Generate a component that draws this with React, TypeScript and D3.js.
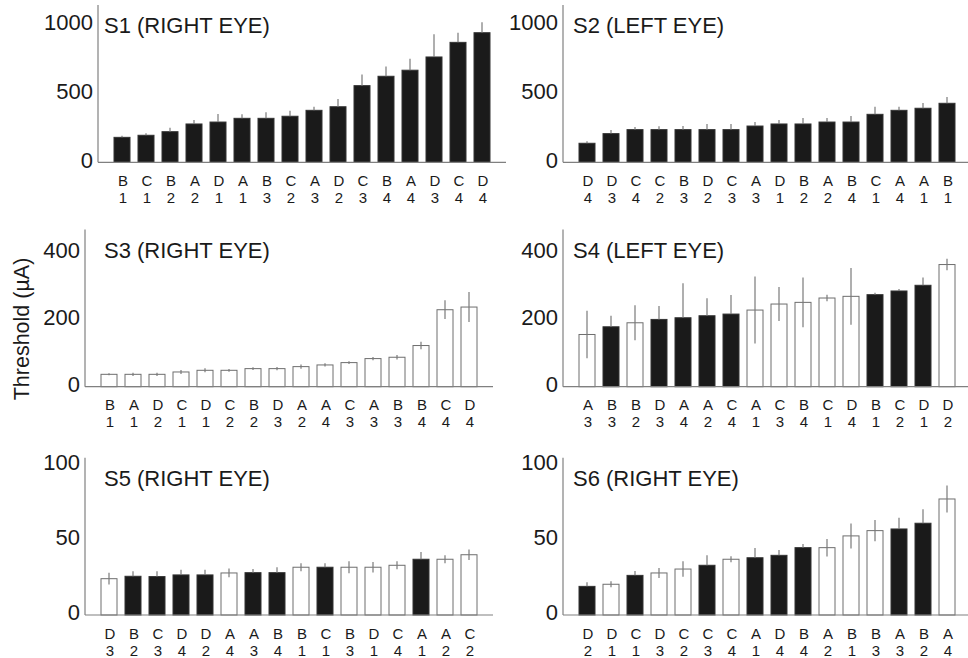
import React from "react";
import * as d3 from "d3";

// ---------- data ----------
const S1_CATS = ["B1","C1","B2","A2","D1","A1","B3","C2","A3","D2","C3","B4","A4","D3","C4","D4"];
const S1_VALUES = [181,196,222,278,292,319,319,334,377,403,556,624,668,764,870,940];
const S1_ERRORS = [12,14,29,29,58,29,44,40,26,56,80,70,84,165,70,75];
const S1_FILLED = [1,1,1,1,1,1,1,1,1,1,1,1,1,1,1,1];

const S2_CATS = ["D4","D3","C4","C2","B3","D2","C3","A3","D1","B2","A2","B4","C1","A4","A1","B1"];
const S2_VALUES = [138,208,237,237,237,237,237,263,278,278,292,292,348,377,392,428];
const S2_ERRORS = [14,26,19,24,26,41,41,29,29,43,29,44,55,26,38,45];
const S2_FILLED = [1,1,1,1,1,1,1,1,1,1,1,1,1,1,1,1];

const S3_CATS = ["B1","A1","D2","C1","D1","C2","B2","D3","A2","A4","C3","A3","B3","B4","C4","D4"];
const S3_VALUES = [37,37,37,44,49,49,54,54,60,65,72,84,88,123,230,238];
const S3_ERRORS = [3,5,5,6,6,4,4,5,6,5,4,5,7,11,28,45];
const S3_FILLED = [0,0,0,0,0,0,0,0,0,0,0,0,0,0,0,0];

const S4_CATS = ["A3","B3","B2","D3","A4","A2","C4","A1","C3","B4","C1","D4","B1","C2","D1","D2"];
const S4_VALUES = [156,179,191,201,206,212,217,229,247,252,265,270,275,286,303,365];
const S4_ERRORS = [71,33,52,40,103,52,57,100,51,74,10,85,6,6,23,17];
const S4_FILLED = [0,1,0,1,1,1,1,0,0,0,0,0,1,1,1,0];

const S5_CATS = ["D3","B2","C3","D4","D2","A4","A3","B4","B1","C1","B3","D1","C4","A1","A2","C2"];
const S5_VALUES = [24.1,25.7,25.5,26.6,26.6,27.9,28.1,28.1,31.7,31.7,31.7,31.7,33,37,37,40];
const S5_ERRORS = [3.9,3.3,3.5,3.5,3.5,2.9,2.4,3.6,2.7,2.6,4,3.5,2.7,4.8,2.7,3.5];
const S5_FILLED = [0,1,1,1,1,0,1,1,0,1,0,0,0,1,0,0];

const S6_CATS = ["D2","D1","C1","D3","C2","C3","C4","A1","D4","B4","A2","B1","B3","A3","B2","A4"];
const S6_VALUES = [19,20.4,26.3,27.9,30.5,33,37,38,39.6,44.7,44.7,52.5,56,57.1,60.9,77];
const S6_ERRORS = [2.7,2,2.9,3.3,5.1,6.6,2,6.5,3.6,2.4,5.8,8.3,7,7.5,9.3,9];
const S6_FILLED = [1,0,1,0,0,1,0,1,1,1,0,0,0,1,1,0];

const TITLES = ["S1 (RIGHT EYE)","S2 (LEFT EYE)","S3 (RIGHT EYE)","S4 (LEFT EYE)","S5 (RIGHT EYE)","S6 (RIGHT EYE)"];
const Y_MAX = [1141, 1141, 470, 470, 104.4, 104.4];
const Y_TICKS = [[0,500,1000],[0,500,1000],[0,200,400],[0,200,400],[0,50,100],[0,50,100]];
const Y_LABEL = "Threshold (\u00B5A)";

// ---------- layout ----------
const W = 968, H = 658;
const FONT = "'Liberation Sans', Arial, Helvetica, sans-serif";
const AXIS_X = [98, 563, 85, 563, 85, 563];
const BASE_Y = [162.3, 162.3, 386.7, 386.7, 615, 615];
const AXIS_H = 157.3;
const STEP = 24;
const BAR_W = 16;
const TITLE_X = [104, 573, 104, 573, 104, 573];
const AXIS_COLOR = "#808080";
const BAR_BLACK = "#1a1a1a";
const ERR_COLOR = "#7a7a7a";

type Panel = { cats: string[]; values: number[]; errors: number[]; filled: number[] };
const PANELS: Panel[] = [
  { cats: S1_CATS, values: S1_VALUES, errors: S1_ERRORS, filled: S1_FILLED },
  { cats: S2_CATS, values: S2_VALUES, errors: S2_ERRORS, filled: S2_FILLED },
  { cats: S3_CATS, values: S3_VALUES, errors: S3_ERRORS, filled: S3_FILLED },
  { cats: S4_CATS, values: S4_VALUES, errors: S4_ERRORS, filled: S4_FILLED },
  { cats: S5_CATS, values: S5_VALUES, errors: S5_ERRORS, filled: S5_FILLED },
  { cats: S6_CATS, values: S6_VALUES, errors: S6_ERRORS, filled: S6_FILLED },
];

function BarPanel({ idx }: { idx: number }) {
  const p = PANELS[idx];
  const x0 = AXIS_X[idx];
  const base = BASE_Y[idx];
  const n = p.cats.length;
  const x = d3.scaleLinear().domain([0, n + 1]).range([x0, x0 + (n + 1) * STEP]);
  const y = d3.scaleLinear().domain([0, Y_MAX[idx]]).range([base, base - AXIS_H]);
  return (
    <g>
      {p.values.map((v, i) => {
        const cx = x(i + 1);
        const f = p.filled[i] === 1;
        return (
          <rect key={"b" + i} x={cx - BAR_W / 2} y={y(v)} width={BAR_W} height={y(0) - y(v)}
            fill={f ? BAR_BLACK : "#ffffff"} stroke={f ? "#333" : "#6e6e6e"} strokeWidth={1} />
        );
      })}
      {p.values.map((v, i) => {
        const cx = x(i + 1);
        const f = p.filled[i] === 1;
        const e = p.errors[i];
        return (
          <line key={"e" + i} x1={cx} x2={cx} y1={f ? y(v) : y(v - e)} y2={y(v + e)}
            stroke={ERR_COLOR} strokeWidth={1.2} />
        );
      })}
      <line x1={x0} x2={x0} y1={base} y2={base - AXIS_H} stroke={AXIS_COLOR} strokeWidth={1.2} />
      <line x1={x0} x2={x(n + 1)} y1={base} y2={base} stroke={AXIS_COLOR} strokeWidth={1.2} />
      {Y_TICKS[idx].map((t) => (
        <text key={"t" + t} x={x0 - 5} y={y(t) - 2.5} dy="0.36em" textAnchor="end"
          fontSize={22} fill="#1a1a1a" fontFamily={FONT}>{t}</text>
      ))}
      {p.cats.map((c, i) => (
        <g key={"c" + i}>
          <text x={x(i + 1) + 1} y={base + 18.2} dy="0.36em" textAnchor="middle" fontSize={15}
            fill="#1a1a1a" fontFamily={FONT}>{c[0]}</text>
          <text x={x(i + 1) + 1} y={base + 35.2} dy="0.36em" textAnchor="middle" fontSize={15}
            fill="#1a1a1a" fontFamily={FONT}>{c.slice(1)}</text>
        </g>
      ))}
      <text x={TITLE_X[idx]} y={base - 137} dy="0.36em" fontSize={22} fill="#1a1a1a"
        fontFamily={FONT}>{TITLES[idx]}</text>
    </g>
  );
}

export default function App() {
  return (
    <svg width={W} height={H} style={{ position: "absolute", left: 0, top: 0, background: "#fff" }}>
      <rect x={0} y={0} width={W} height={H} fill="#fff" />
      {PANELS.map((_, i) => <BarPanel key={i} idx={i} />)}
      <text transform={`translate(21, 329) rotate(-90)`} textAnchor="middle" dy="0.36em" fontSize={21.5}
        fill="#1a1a1a" fontFamily={FONT}>{Y_LABEL}</text>
    </svg>
  );
}
